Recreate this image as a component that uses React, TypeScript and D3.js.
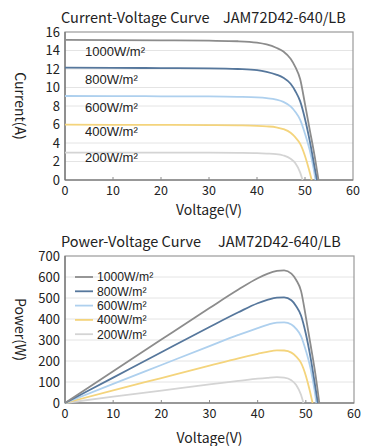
import React, { useEffect, useRef } from 'react';
import * as d3 from 'd3';

// irradiance levels and colours
const levels = ['1000W/m²', '800W/m²', '600W/m²', '400W/m²', '200W/m²'];
const colors = ['#8c8c8c', '#56779c', '#aed0ee', '#f4d47c', '#d4d4d4'];

// I-V readings (voltage / current) per irradiance
const v1000 = [0, 10, 20, 30, 36, 40, 42, 44, 45.5, 47, 48, 49, 50, 51, 52, 52.8];
const i1000 = [15.15, 15.13, 15.1, 15.06, 15.0, 14.85, 14.65, 14.3, 13.9, 13.1, 12.2, 10.9, 8.2, 5.4, 2.6, 0];
const v800 = [0, 10, 20, 30, 36, 40, 42, 44, 45.5, 47, 48, 49, 50, 51, 52, 52.5];
const i800 = [12.15, 12.13, 12.1, 12.07, 12.0, 11.88, 11.7, 11.4, 11.05, 10.4, 9.6, 8.5, 6.6, 4.2, 1.4, 0];
const v600 = [0, 10, 20, 30, 36, 40, 42, 44, 45.5, 47, 48, 49, 50, 51, 51.8, 52.2];
const i600 = [9.08, 9.07, 9.05, 9.03, 8.99, 8.93, 8.85, 8.7, 8.45, 7.95, 7.35, 6.5, 5.0, 3.2, 1.2, 0];
const v400 = [0, 10, 20, 30, 36, 40, 42, 44, 45.5, 47, 48, 49, 50, 50.8, 51.4];
const i400 = [5.98, 5.97, 5.96, 5.94, 5.91, 5.86, 5.8, 5.7, 5.5, 5.1, 4.6, 3.9, 2.6, 1.2, 0];
const v200 = [0, 10, 20, 30, 36, 40, 42, 44, 45.5, 47, 48, 49, 49.5];
const i200 = [2.97, 2.97, 2.96, 2.95, 2.93, 2.9, 2.86, 2.8, 2.65, 2.3, 1.8, 0.8, 0];

// P-V readings (same voltages as above)
const p1000 = [0, 151, 302, 452, 540, 594, 615, 629, 632, 616, 586, 534, 410, 275, 135, 0];
const p800 = [0, 121, 242, 362, 432, 475, 491, 502, 503, 489, 461, 417, 330, 214, 73, 0];
const p600 = [0, 91, 181, 271, 324, 357, 372, 383, 384, 374, 353, 319, 250, 163, 62, 0];
const p400 = [0, 60, 119, 178, 213, 234, 244, 251, 250, 240, 221, 191, 130, 61, 0];
const p200 = [0, 30, 59, 89, 105, 116, 120, 123, 121, 108, 86, 39, 0];

const volts = [v1000, v800, v600, v400, v200];
const currents = [i1000, i800, i600, i400, i200];
const powers = [p1000, p800, p600, p400, p200];

const xTicks = [0, 10, 20, 30, 40, 50, 60];
const iTicks = [0, 2, 4, 6, 8, 10, 12, 14, 16];
const pTicks = [0, 100, 200, 300, 400, 500, 600, 700];

const FONT = "'Noto Sans CJK SC', 'Noto Sans', sans-serif";
const LFONT = "'Liberation Sans', Arial, sans-serif";

function drawChart(svg, opt) {
  const { top, bottom, left, right, yMax, yTicks, series, title, yLabel } = opt;
  const x = d3.scaleLinear().domain([0, 60]).range([left, right]);
  const y = d3.scaleLinear().domain([0, yMax]).range([bottom, top]);
  const g = svg.append('g');

  // grid
  g.selectAll('.grid')
    .data(yTicks.slice(1, -1))
    .enter()
    .append('line')
    .attr('x1', left).attr('x2', right)
    .attr('y1', d => y(d)).attr('y2', d => y(d))
    .attr('stroke', '#e4e4e4').attr('stroke-width', 1);

  // frame
  g.append('rect')
    .attr('x', left).attr('y', top)
    .attr('width', right - left).attr('height', bottom - top)
    .attr('fill', 'none').attr('stroke', '#9a9a9a').attr('stroke-width', 1.2);
  g.append('line').attr('x1', left).attr('x2', left).attr('y1', top).attr('y2', bottom)
    .attr('stroke', '#6e6e6e').attr('stroke-width', 1.2);
  g.append('line').attr('x1', left).attr('x2', right).attr('y1', bottom).attr('y2', bottom)
    .attr('stroke', '#6e6e6e').attr('stroke-width', 1.2);

  // small ticks on x axis
  g.selectAll('.xt')
    .data(xTicks.slice(1, -1))
    .enter()
    .append('line')
    .attr('x1', d => x(d)).attr('x2', d => x(d))
    .attr('y1', bottom).attr('y2', bottom - 3)
    .attr('stroke', '#8a8a8a');

  // curves (draw low irradiance first)
  const line = d3.line().curve(d3.curveMonotoneX).x(d => x(d[0])).y(d => y(d[1]));
  series.slice().reverse().forEach(s => {
    g.append('path')
      .datum(s.pts)
      .attr('d', line)
      .attr('fill', 'none')
      .attr('stroke', s.color)
      .attr('stroke-width', 1.8);
  });

  // tick labels
  g.selectAll('.xl')
    .data(xTicks)
    .enter()
    .append('text')
    .attr('x', d => x(d)).attr('y', bottom + 15)
    .attr('text-anchor', 'middle')
    .attr('font-size', 12.5).attr('font-family', FONT).attr('fill', '#222')
    .text(d => d);
  g.selectAll('.yl')
    .data(yTicks)
    .enter()
    .append('text')
    .attr('x', left - 5).attr('y', d => y(d) + 4.5)
    .attr('text-anchor', 'end')
    .attr('font-size', 13).attr('font-family', FONT).attr('fill', '#222')
    .text(d => d);

  // titles
  g.append('text').attr('x', 61).attr('y', top - 9)
    .attr('font-size', 14.5).attr('font-family', FONT).attr('fill', '#222')
    .text(title);
  g.append('text').attr('x', opt.modelX).attr('y', top - 9)
    .attr('font-size', 14.5).attr('font-family', FONT).attr('fill', '#222')
    .text('JAM72D42-640/LB');

  g.append('text').attr('x', (left + right) / 2).attr('y', opt.xLabelY)
    .attr('text-anchor', 'middle')
    .attr('font-size', 14).attr('font-family', FONT).attr('fill', '#222')
    .text('Voltage(V)');
  g.append('text')
    .attr('transform', `translate(15, ${(top + bottom) / 2}) rotate(90)`)
    .attr('text-anchor', 'middle')
    .attr('font-size', 14).attr('font-family', FONT).attr('fill', '#222')
    .text(yLabel);
  return g;
}

export default function App() {
  const ref = useRef(null);

  useEffect(() => {
    const svg = d3.select(ref.current);
    svg.selectAll('*').remove();

    const ivSeries = levels.map((l, k) => ({
      color: colors[k],
      pts: volts[k].map((v, j) => [v, currents[k][j]]),
    }));
    const pvSeries = levels.map((l, k) => ({
      color: colors[k],
      pts: volts[k].map((v, j) => [v, powers[k][j]]),
    }));

    drawChart(svg, {
      top: 32, bottom: 180, left: 65, right: 353, yMax: 16, yTicks: iTicks,
      series: ivSeries, title: 'Current-Voltage Curve', yLabel: 'Current(A)',
      modelX: 223, xLabelY: 215,
    });

    // labels inside the I-V plot
    const iy = d3.scaleLinear().domain([0, 16]).range([180, 32]);
    const labelAt = [13.4, 10.4, 7.4, 4.8, 1.9];
    svg.selectAll('.ivlab')
      .data(levels)
      .enter()
      .append('text')
      .attr('x', 85).attr('y', (d, k) => iy(labelAt[k]))
      .attr('font-size', 13).attr('font-family', LFONT).attr('fill', '#222')
      .text(d => d);

    const g2 = drawChart(svg, {
      top: 256, bottom: 403, left: 65, right: 354, yMax: 700, yTicks: pTicks,
      series: pvSeries, title: 'Power-Voltage Curve', yLabel: 'Power(W)',
      modelX: 218, xLabelY: 443,
    });

    // legend
    const leg = g2.selectAll('.leg').data(levels).enter().append('g')
      .attr('transform', (d, k) => `translate(75, ${277 + k * 14.3})`);
    leg.append('line').attr('x1', 0).attr('x2', 18).attr('y1', 0).attr('y2', 0)
      .attr('stroke', (d, k) => colors[k]).attr('stroke-width', 1.8);
    leg.append('text').attr('x', 22).attr('y', 4.3)
      .attr('font-size', 12.2).attr('font-family', LFONT).attr('fill', '#222')
      .text(d => d);
  }, []);

  return (
    <svg ref={ref} width={367} height={446}
      style={{ position: 'absolute', left: 0, top: 0, background: '#fff' }} />
  );
}
